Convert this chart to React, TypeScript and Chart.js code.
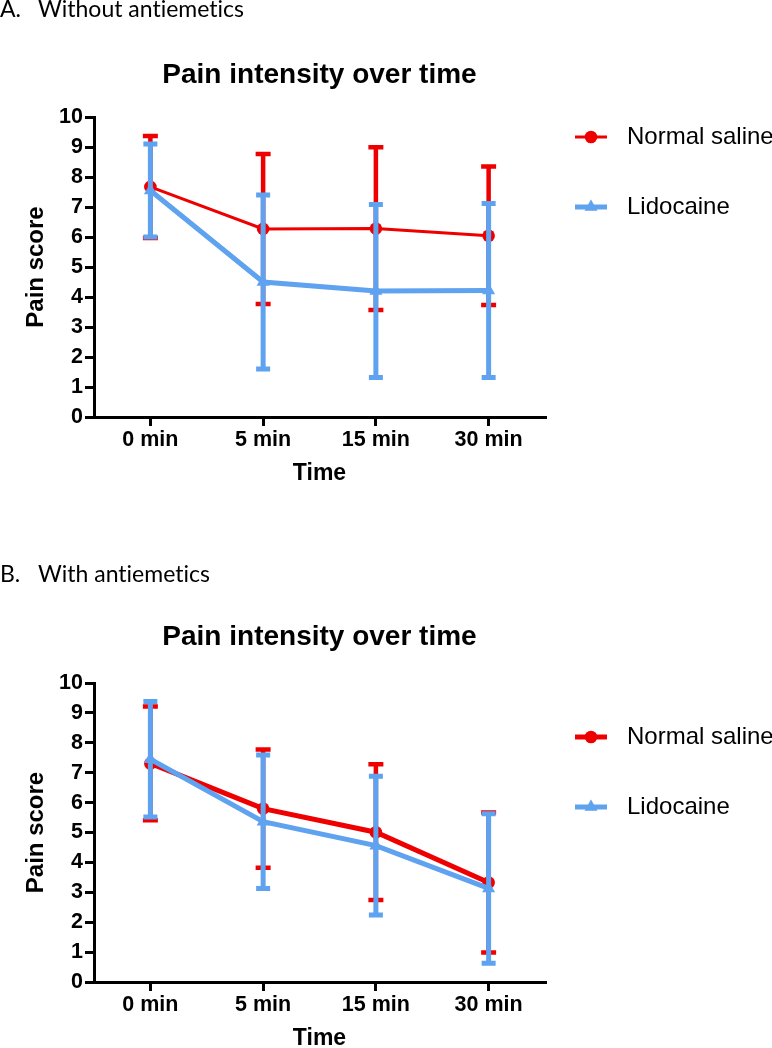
import React, { useEffect, useRef } from 'react';
import { Chart, registerables } from 'chart.js';

Chart.register(...registerables);

// ---- data ----
const timeLabels = ['0 min', '5 min', '15 min', '30 min'];
const seriesNames = ['Normal saline', 'Lidocaine'];
const chartTitle = 'Pain intensity over time';
const xTitle = 'Time';
const yTitle = 'Pain score';

// Panel A: without antiemetics (mean, SD)
const salineMeanA = [7.67, 6.27, 6.28, 6.04];
const salineSdA = [1.7, 2.5, 2.71, 2.31];
const lidoMeanA = [7.55, 4.5, 4.2, 4.22];
const lidoSdA = [1.55, 2.9, 2.88, 2.9];

// Panel B: with antiemetics (mean, SD)
const salineMeanB = [7.31, 5.8, 5.01, 3.33];
const salineSdB = [1.9, 1.98, 2.27, 2.34];
const lidoMeanB = [7.45, 5.36, 4.56, 3.13];
const lidoSdB = [1.93, 2.23, 2.32, 2.5];

const RED = '#ee0000';
const BLUE = '#5ea2f0';
const FONT = '"Liberation Sans", Arial, Helvetica, sans-serif';

const errorBarPlugin = {
  id: 'errorBars',
  beforeDatasetDraw(chart: any, args: any) {
    const ds: any = chart.data.datasets[args.index];
    if (!ds.sd) return;
    const ys = chart.scales.y;
    const ctx = chart.ctx;
    ctx.save();
    ctx.strokeStyle = ds.borderColor;
    ctx.lineWidth = ds.errorWidth;
    ctx.lineCap = 'butt';
    args.meta.data.forEach((pt: any, i: number) => {
      const m = ds.data[i];
      const s = ds.sd[i];
      const yt = ys.getPixelForValue(m + s);
      const yb = ys.getPixelForValue(m - s);
      const c = ds.capHalf;
      ctx.beginPath();
      ctx.moveTo(pt.x, yt);
      ctx.lineTo(pt.x, yb);
      ctx.moveTo(pt.x - c, yt);
      ctx.lineTo(pt.x + c, yt);
      ctx.moveTo(pt.x - c, yb);
      ctx.lineTo(pt.x + c, yb);
      ctx.stroke();
    });
    ctx.restore();
  },
};

function makeLegendPlugin(ys: number[]) {
  return {
    id: 'seLegend',
    afterDraw(chart: any) {
      const ctx = chart.ctx;
      chart.data.datasets.forEach((ds: any, i: number) => {
        const y = ys[i];
        const x0 = 575;
        const x1 = 607;
        const cx = (x0 + x1) / 2;
        ctx.save();
        ctx.strokeStyle = ds.borderColor;
        ctx.lineWidth = ds.borderWidth;
        ctx.beginPath();
        ctx.moveTo(x0, y);
        ctx.lineTo(x1, y);
        ctx.stroke();
        ctx.fillStyle = ds.borderColor;
        ctx.beginPath();
        if (ds.pointStyle === 'triangle') {
          const r = ds.pointRadius;
          ctx.moveTo(cx, y - r);
          ctx.lineTo(cx + 0.866 * r, y + 0.5 * r);
          ctx.lineTo(cx - 0.866 * r, y + 0.5 * r);
          ctx.closePath();
        } else {
          ctx.arc(cx, y, ds.pointRadius, 0, Math.PI * 2);
        }
        ctx.fill();
        ctx.fillStyle = '#000';
        ctx.font = `24px ${FONT}`;
        ctx.textBaseline = 'middle';
        ctx.textAlign = 'left';
        ctx.fillText(ds.label, 627, y);
        ctx.restore();
      });
    },
  };
}

type PanelProps = {
  top: number;
  height: number;
  letter: string;
  caption: string;
  labelTop: number;
  salineMean: number[];
  salineSd: number[];
  lidoMean: number[];
  lidoSd: number[];
  salineWidth: number;
  titlePad: { top: number; bottom: number };
  bottomPad: number;
  legendYs: number[];
};

function Panel(p: PanelProps) {
  const ref = useRef<HTMLCanvasElement>(null);
  useEffect(() => {
    const tickFont = { family: FONT, size: 21.5, weight: 'bold' as const, lineHeight: 1 };
    const chart = new Chart(ref.current as HTMLCanvasElement, {
      type: 'line',
      data: {
        labels: timeLabels,
        datasets: [
          {
            label: seriesNames[0],
            data: p.salineMean,
            sd: p.salineSd,
            errorWidth: 4.5,
            capHalf: 7.5,
            borderColor: RED,
            backgroundColor: RED,
            borderWidth: p.salineWidth,
            pointStyle: 'circle',
            pointRadius: 6.3,
            pointBorderWidth: 0,
            pointBackgroundColor: RED,
            pointBorderColor: RED,
            tension: 0,
            order: 1,
          } as any,
          {
            label: seriesNames[1],
            data: p.lidoMean,
            sd: p.lidoSd,
            errorWidth: 5,
            capHalf: 7,
            borderColor: BLUE,
            backgroundColor: BLUE,
            borderWidth: 5,
            pointStyle: 'triangle',
            pointRadius: 7.5,
            pointBorderWidth: 0,
            pointBackgroundColor: BLUE,
            pointBorderColor: BLUE,
            tension: 0,
            order: 0,
          } as any,
        ],
      },
      options: {
        responsive: false,
        animation: false,
        devicePixelRatio: 1,
        layout: { padding: { left: 8, right: 227, top: 0, bottom: p.bottomPad } },
        plugins: {
          legend: { display: false },
          tooltip: { enabled: false },
          title: {
            display: true,
            text: chartTitle,
            fullSize: false,
            color: '#000',
            font: { family: FONT, size: 28, weight: 'bold', lineHeight: 1 },
            padding: p.titlePad,
          },
        },
        scales: {
          x: {
            type: 'category',
            offset: true,
            afterFit: (s: any) => {
              s.height = 66;
            },
            grid: {
              display: true,
              drawOnChartArea: false,
              drawTicks: true,
              tickLength: 9,
              tickWidth: 3,
              tickColor: '#000',
              color: '#000',
              lineWidth: 3,
            },
            border: { display: true, color: '#000', width: 3 },
            ticks: { font: tickFont, color: '#000', padding: 3, maxRotation: 0 },
            title: {
              display: true,
              text: xTitle,
              color: '#000',
              font: { family: FONT, size: 23, weight: 'bold', lineHeight: 1 },
              padding: { top: 0, bottom: -2 },
            },
          },
          y: {
            min: 0,
            max: 10,
            afterFit: (s: any) => {
              s.width = 86;
            },
            grid: {
              display: true,
              drawOnChartArea: false,
              drawTicks: true,
              tickLength: 9,
              tickWidth: 3,
              tickColor: '#000',
              color: '#000',
              lineWidth: 3,
            },
            border: { display: true, color: '#000', width: 3 },
            ticks: { stepSize: 1, font: tickFont, color: '#000', padding: 2 },
            title: {
              display: true,
              text: yTitle,
              color: '#000',
              font: { family: FONT, size: 24, weight: 'bold', lineHeight: 1 },
              padding: { top: 16, bottom: 0 },
            },
          },
        },
      } as any,
      plugins: [errorBarPlugin, makeLegendPlugin(p.legendYs)],
    });
    return () => chart.destroy();
  }, []);

  return (
    <>
      <div
        style={{
          position: 'absolute',
          left: 0,
          top: p.labelTop,
          fontFamily: 'Lato, "Open Sans", sans-serif',
          fontSize: 23,
          lineHeight: '24px',
          fontVariantLigatures: 'none',
          fontFeatureSettings: '"liga" 0, "clig" 0',
          color: '#000',
          whiteSpace: 'nowrap',
          zIndex: 2,
        }}
      >
        <span style={{ display: 'inline-block', width: 38 }}>{p.letter}</span>
        {p.caption}
      </div>
      <canvas
        ref={ref}
        width={772}
        height={p.height}
        style={{ position: 'absolute', left: 0, top: p.top, width: 772, height: p.height }}
      />
    </>
  );
}

export default function App() {
  return (
    <div
      style={{
        position: 'absolute',
        left: 0,
        top: 0,
        width: 772,
        height: 1048,
        background: '#fff',
        overflow: 'hidden',
      }}
    >
      <Panel
        top={0}
        height={560}
        letter="A."
        caption="Without antiemetics"
        labelTop={-4}
        salineMean={salineMeanA}
        salineSd={salineSdA}
        lidoMean={lidoMeanA}
        lidoSd={lidoSdA}
        salineWidth={3}
        titlePad={{ top: 61, bottom: 28 }}
        bottomPad={77}
        legendYs={[137, 207]}
      />
      <Panel
        top={558}
        height={490}
        letter="B."
        caption="With antiemetics"
        labelTop={561}
        salineMean={salineMeanB}
        salineSd={salineSdB}
        lidoMean={lidoMeanB}
        lidoSd={lidoSdB}
        salineWidth={5}
        titlePad={{ top: 65, bottom: 32 }}
        bottomPad={0}
        legendYs={[179, 249]}
      />
    </div>
  );
}
